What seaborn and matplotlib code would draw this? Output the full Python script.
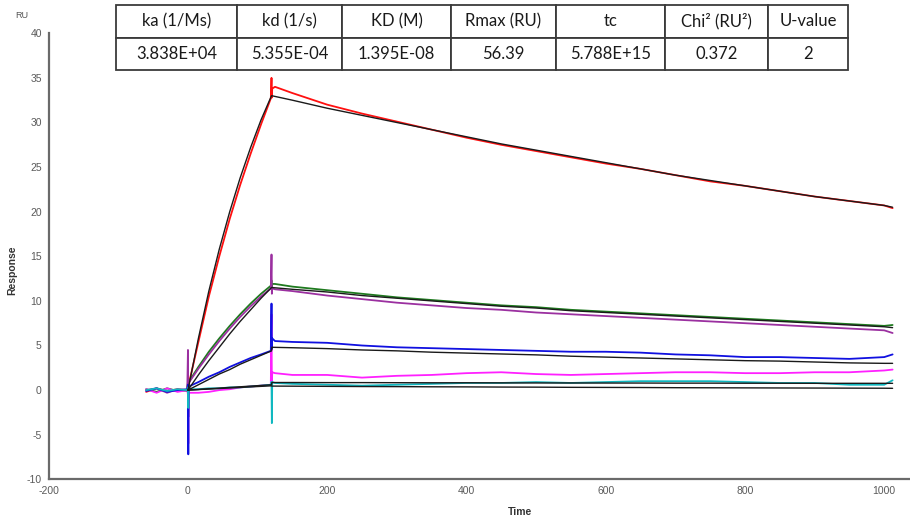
import matplotlib
matplotlib.use("Agg")
import matplotlib.pyplot as plt
from matplotlib.ticker import MultipleLocator
import numpy as np
import pandas as pd
import seaborn as sns

# ---------------------------------------------------------------- data
# Sampling times (s) for the recorded sensorgrams. The short steps at 0 and
# 120 s carry the injection-start / injection-end artefacts.
T_OBS = [-60, -45, -30, -15, -1, 0, 0.5, 1, 15, 30, 45, 60, 75, 90, 105, 119,
         120, 120.5, 121, 125, 150, 200, 250, 300, 350, 400, 450, 500, 550,
         600, 650, 700, 750, 800, 850, 900, 950, 1000, 1012]

red_obs = [-0.2, 0.2, -0.1, 0.1, 0.0, 0.8, -0.5, 0.6, 5.4, 10.5, 15.0, 19.2,
           23.0, 26.5, 29.8, 32.7, 35.0, 32.8, 33.8, 34.0, 33.3, 32.0, 31.0,
           30.1, 29.2, 28.3, 27.5, 26.8, 26.1, 25.4, 24.8, 24.1, 23.4, 22.9,
           22.3, 21.7, 21.2, 20.7, 20.4]
green_obs = [0.1, -0.2, 0.2, -0.1, 0.0, 0.9, 0.4, 0.9, 2.6, 4.3, 5.8, 7.2,
             8.5, 9.7, 10.8, 11.7, 12.3, 11.5, 11.9, 11.9, 11.6, 11.2, 10.8,
             10.4, 10.1, 9.8, 9.5, 9.3, 9.0, 8.8, 8.6, 8.4, 8.2, 8.0, 7.8, 7.6,
             7.4, 7.2, 7.3]
purple_obs = [0.0, 0.2, -0.3, 0.1, -0.1, 4.5, -3.0, 0.8, 2.4, 4.0, 5.5, 6.9,
              8.2, 9.4, 10.5, 11.4, 15.2, 10.8, 11.4, 11.3, 11.1, 10.6, 10.2,
              9.8, 9.5, 9.2, 9.0, 8.7, 8.5, 8.3, 8.1, 7.9, 7.7, 7.5, 7.3, 7.1,
              6.9, 6.7, 6.4]
blue_obs = [-0.1, 0.2, -0.2, 0.0, 0.1, 0.6, -7.2, 0.4, 0.9, 1.5, 2.0, 2.6,
            3.1, 3.6, 4.0, 4.4, 9.7, 4.6, 5.8, 5.5, 5.4, 5.3, 5.0, 4.8, 4.7,
            4.6, 4.5, 4.4, 4.3, 4.3, 4.2, 4.0, 3.9, 3.7, 3.7, 3.6, 3.5, 3.7,
            4.0]
magenta_obs = [0.1, -0.3, 0.2, -0.2, 0.0, -0.5, -6.0, -0.3, -0.3, -0.2, 0.0,
               0.1, 0.3, 0.4, 0.5, 0.6, 8.5, 0.5, 2.0, 1.9, 1.7, 1.7, 1.4,
               1.6, 1.7, 1.9, 2.0, 1.8, 1.7, 1.8, 1.9, 2.0, 2.0, 1.9, 1.9, 2.0,
               2.0, 2.2, 2.3]
cyan_obs = [0.0, 0.2, -0.1, 0.1, 0.0, 0.3, -2.0, 0.1, 0.1, 0.2, 0.2, 0.3, 0.3,
            0.4, 0.5, 0.6, 0.9, -3.7, 0.9, 0.8, 0.7, 0.6, 0.5, 0.6, 0.7, 0.8,
            0.8, 0.9, 0.8, 0.9, 1.0, 1.0, 1.0, 0.9, 0.8, 0.8, 0.6, 0.6, 1.1]

# 1:1 binding model fits (association 0-120 s, dissociation afterwards)
T_FIT = [0, 15, 30, 45, 60, 75, 90, 105, 120, 120.5, 150, 200, 250, 300, 350,
         400, 450, 500, 550, 600, 650, 700, 750, 800, 850, 900, 950, 1000, 1012]

red_fit = [0, 5.8, 11.1, 15.8, 20.0, 23.8, 27.2, 30.3, 33.0, 33.0, 32.5, 31.6,
           30.8, 30.0, 29.2, 28.4, 27.6, 26.9, 26.2, 25.5, 24.8, 24.1, 23.5,
           22.9, 22.3, 21.7, 21.2, 20.7, 20.5]
green_fit = [0, 1.7, 3.3, 4.8, 6.3, 7.7, 9.0, 10.3, 11.5, 11.5, 11.3, 11.0,
             10.6, 10.3, 10.0, 9.7, 9.4, 9.2, 8.9, 8.7, 8.5, 8.3, 8.1, 7.9,
             7.7, 7.5, 7.3, 7.1, 7.0]
blue_fit = [0, 0.6, 1.2, 1.8, 2.3, 2.9, 3.4, 3.9, 4.4, 4.8, 4.75, 4.65, 4.5,
            4.4, 4.25, 4.15, 4.05, 3.95, 3.8, 3.7, 3.6, 3.5, 3.4, 3.3, 3.25,
            3.15, 3.05, 3.0, 3.0]
magenta_fit = [0, 0.07, 0.15, 0.22, 0.3, 0.37, 0.45, 0.52, 0.6, 0.85, 0.85,
               0.84, 0.84, 0.83, 0.82, 0.82, 0.81, 0.8, 0.8, 0.79, 0.79, 0.78,
               0.78, 0.77, 0.77, 0.76, 0.76, 0.76, 0.76]
cyan_fit = [0, 0.06, 0.12, 0.18, 0.24, 0.3, 0.36, 0.42, 0.48, 0.45, 0.44,
            0.42, 0.4, 0.39, 0.37, 0.36, 0.34, 0.33, 0.31, 0.3, 0.29, 0.27,
            0.26, 0.25, 0.24, 0.23, 0.22, 0.21, 0.2]

# kinetic summary table
TABLE_HEADERS = ["ka (1/Ms)", "kd (1/s)", "KD (M)", "Rmax (RU)", "tc",
                 "Chi² (RU²)", "U-value"]
TABLE_VALUES = ["3.838E+04", "5.355E-04", "1.395E-08", "56.39", "5.788E+15",
                "0.372", "2"]

X_TICKS = [-200, 0, 200, 400, 600, 800, 1000]
Y_TICKS = [-10, -5, 0, 5, 10, 15, 20, 25, 30, 35, 40]

# ---------------------------------------------------------------- frames
observed = {
    "red": (red_obs, "#ff1010"),
    "green": (green_obs, "#1f7a1f"),
    "magenta": (magenta_obs, "#ff20ff"),
    "purple": (purple_obs, "#9b30a0"),
    "blue": (blue_obs, "#1010e0"),
    "cyan": (cyan_obs, "#10b8c0"),
}
fits = {"red": red_fit, "green": green_fit, "blue": blue_fit,
        "magenta": magenta_fit, "cyan": cyan_fit}

obs_df = pd.concat(
    [pd.DataFrame({"Time": T_OBS, "Response": vals, "curve": name})
     for name, (vals, _) in observed.items()], ignore_index=True)
fit_df = pd.concat(
    [pd.DataFrame({"Time": T_FIT, "Response": vals, "curve": name})
     for name, vals in fits.items()], ignore_index=True)

# ---------------------------------------------------------------- style
sns.set_style("white")
plt.rcParams["font.family"] = ["Liberation Sans", "DejaVu Sans"]
plt.rcParams["axes.unicode_minus"] = False

W, H = 910, 523
fig = plt.figure(figsize=(W / 100, H / 100), dpi=100)
ax = fig.add_axes([48.7 / W, 43.7 / H, (W - 48.7) / W, 446 / H])

for name, (_, col) in observed.items():
    sns.lineplot(data=obs_df[obs_df["curve"] == name], x="Time", y="Response",
                 sort=False, estimator=None, color=col, lw=1.3, ax=ax)
for name in fits:
    sns.lineplot(data=fit_df[fit_df["curve"] == name], x="Time", y="Response",
                 sort=False, estimator=None, color="#1a1a1a", lw=1.0, ax=ax)

ax.set_xlim(-200, 1037)
ax.set_ylim(-10, 40)
ax.set_xticks(X_TICKS)
ax.set_yticks(Y_TICKS)
ax.xaxis.set_minor_locator(MultipleLocator(100))
ax.yaxis.set_minor_locator(MultipleLocator(2.5))
ax.set_xlabel("")
ax.set_ylabel("")

for side in ("top", "right"):
    ax.spines[side].set_visible(False)
for side in ("left", "bottom"):
    ax.spines[side].set_color("#6a6a6a")
    ax.spines[side].set_linewidth(1.6)

ax.tick_params(which="major", direction="inout", length=6, width=1.2,
               color="#6a6a6a", labelsize=7.5, labelcolor="#5a5a5a", pad=2)
ax.tick_params(which="minor", direction="inout", length=3, width=0.8,
               color="#8a8a8a")

fig.text(22 / W, 1 - 15 / H, "RU", fontsize=6.5, color="#555555",
         ha="center", va="center")
fig.text(12 / W, 1 - 270 / H, "Response", rotation=90, fontsize=7.5,
         fontweight="bold", color="#333333", ha="center", va="center")
fig.text(520 / W, 1 - 512 / H, "Time", fontsize=7.5, fontweight="bold",
         color="#333333", ha="center", va="center")

# ---------------------------------------------------------------- table
col_edges = [116, 237, 342, 451, 556, 665, 768, 848]
col_widths = np.diff(col_edges) / (col_edges[-1] - col_edges[0])
tax = fig.add_axes([116 / W, 1 - 70 / H, (848 - 116) / W, 65 / H])
tax.axis("off")
tbl = tax.table(cellText=[TABLE_VALUES], colLabels=TABLE_HEADERS,
                colWidths=list(col_widths), cellLoc="center",
                bbox=[0, 0, 1, 1])
tbl.auto_set_font_size(False)
for (r, c), cell in tbl.get_celld().items():
    cell.set_edgecolor("#3a3a3a")
    cell.set_linewidth(1.3)
    cell.set_facecolor("white")
    cell.get_text().set_fontsize(12)
    cell.get_text().set_fontfamily(["Lato", "DejaVu Sans"])
    cell.get_text().set_color("#1a1a1a")

fig.savefig("out.png", dpi=100)
